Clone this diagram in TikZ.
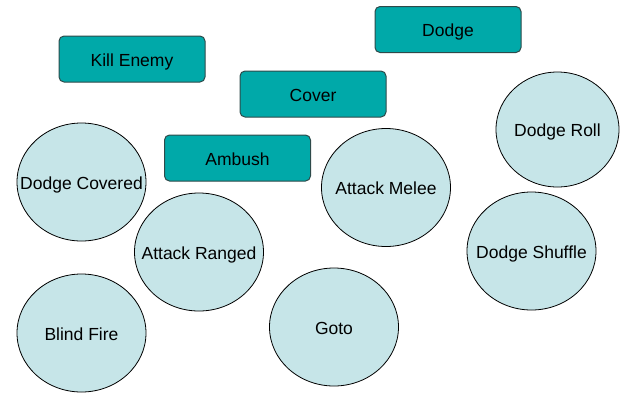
\documentclass[tikz,border=0pt]{standalone}
\usepackage{fontspec}
\setmainfont{Liberation Sans}
\usetikzlibrary{shapes.geometric}
\definecolor{goalteal}{HTML}{00A9A9}
\definecolor{goalline}{HTML}{2E4A4A}
\definecolor{actfill}{HTML}{C6E5E8}
\newcommand{\actlabel}[1]{\makebox[0pt]{#1}}
\tikzset{
	goal/.style={draw=goalline, fill=goalteal, rounded corners=5pt, line width=1pt,
		minimum width=146pt, minimum height=46pt, inner sep=0pt,
		text height=14pt, text depth=0pt, font=\fontsize{17.5}{20}\selectfont},
	action/.style={draw=black, fill=actfill, ellipse, line width=0.8pt,
		minimum width=129pt, minimum height=118pt, inner sep=0pt,
		text height=14pt, text depth=0pt, font=\fontsize{17.5}{20}\selectfont}
}
\begin{document}
\begin{tikzpicture}[x=1pt,y=-1pt]
	\useasboundingbox (0,0) rectangle (621,392);
	% goals
	\node[goal] (killenemy) at (132,59) {Kill Enemy};
	\node[goal] (dodge) at (448,29.5) {Dodge};
	\node[goal] (cover) at (313,94) {Cover};
	\node[goal] (ambush) at (237.5,158) {Ambush};
	% actions
	\node[action] (dodgecovered) at (81.5,182) {\actlabel{Dodge Covered}};
	\node[action] (attackranged) at (199,252) {\actlabel{Attack Ranged}};
	\node[action] (attackmelee) at (386,187.5) {\actlabel{Attack Melee}};
	\node[action, minimum width=123pt, minimum height=115pt] (dodgeroll) at (557.5,129.5) {\actlabel{Dodge Roll}};
	\node[action] (dodgeshuffle) at (531.5,251) {\actlabel{Dodge Shuffle}};
	\node[action] (goto) at (334,327) {\actlabel{Goto}};
	\node[action] (blindfire) at (81.5,333) {\actlabel{Blind Fire}};
\end{tikzpicture}
\end{document}
